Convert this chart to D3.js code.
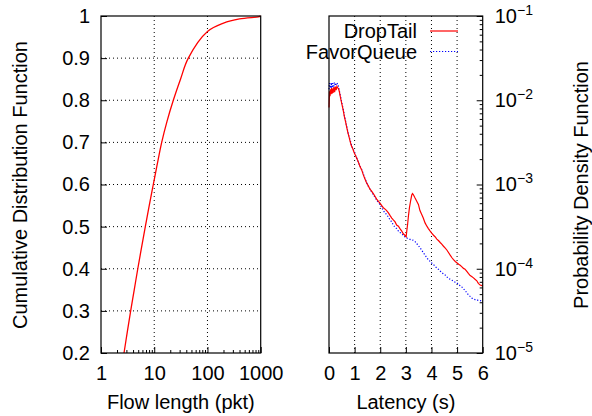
<!DOCTYPE html>
<html>
<head>
<meta charset="utf-8">
<script src="https://cdn.jsdelivr.net/npm/d3@7"></script>
<style>
  body{margin:0;background:#fff;}
  svg{display:block;}
</style>
</head>
<body>
<div id="container"></div>
<script>
let w = 592;
let h = 416;
let fontFamily = "'Liberation Sans', Arial, Helvetica, sans-serif";

// left panel: CDF of flow length
let flowLength = [2.705, 3.12, 3.61, 4.21, 4.91, 5.77, 6.80, 8.05, 9.60, 11.47, 13.81, 17.38, 22.82, 31.15, 43.66, 100, 200, 400, 900, 1000];
let flowCdf    = [0.2, 0.25, 0.3, 0.35, 0.4, 0.45, 0.5, 0.55, 0.6, 0.65, 0.7, 0.75, 0.8, 0.85, 0.9, 0.963, 0.983, 0.993, 0.998, 0.9995];
let cdfTicks = [0.2, 0.3, 0.4, 0.5, 0.6, 0.7, 0.8, 0.9, 1];
let lengthTicks = [1, 10, 100, 1000];

// right panel: PDF of latency, [seconds, density]
let dropTail = [
  [0,0.0082],[0.02,0.0128],[0.04,0.0112],[0.06,0.0135],[0.08,0.0118],[0.10,0.0140],[0.12,0.0120],[0.14,0.0138],
  [0.16,0.0122],[0.19,0.0143],[0.22,0.0125],[0.25,0.0145],[0.28,0.0132],[0.31,0.0146],[0.34,0.0140],[0.37,0.0138],
  [0.40,0.0128],[0.43,0.0115],[0.47,0.0100],[0.51,0.0088],[0.56,0.0075],[0.60,0.0064],[0.65,0.0055],[0.69,0.0048],
  [0.74,0.0041],[0.78,0.0037],[0.82,0.0033],[0.87,0.0029],[0.92,0.0027],[0.98,0.0024],[1.04,0.0022],[1.10,0.0020],
  [1.16,0.0018],[1.21,0.00163],[1.28,0.00148],[1.34,0.00130],[1.40,0.00117],[1.47,0.00104],[1.53,0.00097],[1.60,0.00088],
  [1.67,0.00083],[1.73,0.00078],[1.80,0.00072],[1.86,0.00067],[1.93,0.00063],[1.99,0.00060],[2.06,0.00056],[2.12,0.00053],
  [2.19,0.00051],[2.25,0.00049],[2.32,0.00046],[2.38,0.00043],[2.45,0.00040],[2.51,0.00038],[2.58,0.00036],[2.64,0.00033],
  [2.71,0.00032],[2.77,0.00030],[2.84,0.00028],[2.90,0.00026],[2.96,0.00025],[3.01,0.00024],[3.03,0.00027],[3.07,0.00034],
  [3.10,0.00042],[3.14,0.00053],[3.19,0.00065],[3.23,0.00075],[3.26,0.00078],[3.29,0.00076],[3.31,0.00074],[3.36,0.00069],
  [3.43,0.00063],[3.49,0.00058],[3.55,0.00049],[3.62,0.00044],[3.68,0.00040],[3.75,0.00035],[3.82,0.00032],[3.88,0.00030],
  [3.95,0.00028],[4.01,0.000265],[4.08,0.00025],[4.14,0.00024],[4.21,0.000225],[4.28,0.000215],[4.34,0.000205],[4.41,0.000195],
  [4.47,0.000185],[4.53,0.000177],[4.60,0.000167],[4.67,0.000155],[4.73,0.000145],[4.80,0.000135],[4.86,0.000128],[4.93,0.000122],
  [4.99,0.000118],[5.06,0.000113],[5.12,0.000110],[5.18,0.000106],[5.25,0.000101],[5.31,0.000099],[5.38,0.000093],[5.44,0.000088],
  [5.51,0.000083],[5.57,0.000081],[5.64,0.000078],[5.70,0.000075],[5.77,0.000072],[5.83,0.000067],[5.90,0.000064],[5.96,0.000063],
  [6.0,0.000064]
];
let favorQueue = [
  [0,0.0135],[0.02,0.0160],[0.04,0.0140],[0.06,0.0158],[0.08,0.0138],[0.10,0.0162],[0.12,0.0140],[0.15,0.0160],
  [0.18,0.0142],[0.21,0.0163],[0.24,0.0148],[0.27,0.0160],[0.30,0.0156],[0.33,0.0158],[0.36,0.0150],[0.40,0.0132],
  [0.43,0.0118],[0.47,0.0104],[0.51,0.0090],[0.56,0.0077],[0.60,0.0066],[0.65,0.0056],[0.69,0.0049],[0.74,0.0042],
  [0.78,0.0037],[0.82,0.0034],[0.87,0.0030],[0.92,0.0027],[0.98,0.0025],[1.04,0.0022],[1.10,0.0020],[1.16,0.0018],
  [1.21,0.00165],[1.28,0.00150],[1.34,0.00134],[1.40,0.00118],[1.47,0.00105],[1.53,0.00096],[1.60,0.00088],[1.67,0.00081],
  [1.73,0.00076],[1.80,0.00070],[1.86,0.00065],[1.93,0.00061],[1.99,0.00058],[2.06,0.00053],[2.12,0.00049],[2.19,0.00046],
  [2.25,0.00044],[2.32,0.00041],[2.38,0.00038],[2.45,0.00036],[2.51,0.00033],[2.58,0.00031],[2.64,0.00030],[2.71,0.00028],
  [2.77,0.00027],[2.84,0.000262],[2.90,0.00025],[2.96,0.00024],[3.01,0.000232],[3.08,0.00023],[3.14,0.000225],[3.21,0.00022],
  [3.29,0.000218],[3.36,0.00021],[3.43,0.000198],[3.49,0.000188],[3.55,0.000178],[3.62,0.000166],[3.68,0.000155],[3.75,0.000145],
  [3.82,0.000135],[3.88,0.000128],[3.95,0.000122],[4.01,0.000117],[4.08,0.000112],[4.14,0.000107],[4.21,0.000102],[4.28,0.000098],
  [4.34,0.000094],[4.41,0.000090],[4.47,0.000087],[4.54,0.000084],[4.60,0.000080],[4.67,0.000077],[4.73,0.000075],[4.80,0.000073],
  [4.86,0.000071],[4.93,0.000069],[4.99,0.000068],[5.06,0.000065],[5.12,0.000063],[5.18,0.000061],[5.25,0.000058],[5.31,0.000055],
  [5.38,0.000052],[5.44,0.000049],[5.51,0.000047],[5.57,0.000045],[5.64,0.000044],[5.70,0.000043],[5.77,0.000043],[5.83,0.000042],
  [5.90,0.000042],[5.96,0.000041],[6.0,0.000041]
];
let latencyTicks = [0, 1, 2, 3, 4, 5, 6];
let pdfTicks = [1e-5, 1e-4, 1e-3, 1e-2, 1e-1];
let pdfExponents = ["\u22125", "\u22124", "\u22123", "\u22122", "\u22121"];

// panel boxes
let plotTop = 16;
let plotBottom = 353;
let leftX0 = 101, leftX1 = 260.7;
let rightX0 = 329, rightX1 = 482.7;

let viz = d3.select("#container")
  .append("svg")
    .attr("width", w)
    .attr("height", h)
    .style("font-family", fontFamily)
;

function styleAxis(g){
  g.attr("font-size", 20).attr("font-family", fontFamily);
  g.select(".domain").remove();
  g.selectAll(".tick line").attr("stroke", "#000");
  g.selectAll(".tick text").attr("fill", "#000");
}

// ---------- left panel ----------
let xScaleL = d3.scaleLog().domain([1, 1000]).range([leftX0, leftX1]);
let yScaleL = d3.scaleLinear().domain([0.2, 1]).range([plotBottom, plotTop]);

let gridL = viz.append("g").attr("class", "gridL");
gridL.selectAll(".vgrid").data([10, 100]).enter().append("line")
  .attr("x1", d => xScaleL(d)).attr("x2", d => xScaleL(d))
  .attr("y1", plotTop).attr("y2", plotBottom)
  .attr("stroke", "#000").attr("stroke-width", 1).attr("stroke-dasharray", "1,3");
gridL.selectAll(".hgrid").data(cdfTicks.slice(1, -1)).enter().append("line")
  .attr("x1", leftX0).attr("x2", leftX1)
  .attr("y1", d => yScaleL(d)).attr("y2", d => yScaleL(d))
  .attr("stroke", "#000").attr("stroke-width", 1).attr("stroke-dasharray", "1,3");

let xAxisL = d3.axisBottom(xScaleL).tickValues(lengthTicks).tickFormat(d3.format("d"))
  .tickSizeInner(-6).tickSizeOuter(0).tickPadding(13);
let xAxisGroupL = viz.append("g").attr("class", "xaxisL")
  .attr("transform", "translate(0," + plotBottom + ")").call(xAxisL);
styleAxis(xAxisGroupL);

let minorLength = [];
[1, 10, 100].forEach(function(dec){
  for (let k = 2; k <= 9; k++) minorLength.push(dec * k);
});
let xMinorL = d3.axisBottom(xScaleL).tickValues(minorLength).tickFormat("").tickSizeInner(-3).tickSizeOuter(0);
let xMinorGroupL = viz.append("g").attr("transform", "translate(0," + plotBottom + ")").call(xMinorL);
styleAxis(xMinorGroupL);

let yAxisL = d3.axisLeft(yScaleL).tickValues(cdfTicks).tickFormat(d => d === 1 ? "1" : d3.format(".1f")(d))
  .tickSizeInner(-6).tickSizeOuter(0).tickPadding(11);
let yAxisGroupL = viz.append("g").attr("class", "yaxisL")
  .attr("transform", "translate(" + leftX0 + ",0)").call(yAxisL);
styleAxis(yAxisGroupL);

let cdfLine = d3.line()
  .x((d, i) => xScaleL(flowLength[i]))
  .y(d => yScaleL(d))
  .curve(d3.curveCatmullRom.alpha(0.5));
viz.append("path")
  .datum(flowCdf)
  .attr("d", cdfLine)
  .attr("fill", "none")
  .attr("stroke", "#ff0000")
  .attr("stroke-width", 1.3);

viz.append("rect")
  .attr("x", leftX0).attr("y", plotTop)
  .attr("width", leftX1 - leftX0).attr("height", plotBottom - plotTop)
  .attr("fill", "none").attr("stroke", "#000").attr("stroke-width", 1.2);

viz.append("text")
  .text("Flow length (pkt)")
  .attr("x", (leftX0 + leftX1) / 2).attr("y", 409)
  .attr("text-anchor", "middle").attr("font-size", 20);

viz.append("text")
  .text("Cumulative Distribution Function")
  .attr("transform", "translate(26.5,185) rotate(-90)")
  .attr("text-anchor", "middle").attr("font-size", 20);

// ---------- right panel ----------
let xScaleR = d3.scaleLinear().domain([0, 6]).range([rightX0, rightX1]);
let yScaleR = d3.scaleLog().domain([1e-5, 1e-1]).range([plotBottom, plotTop]);

viz.append("g").selectAll("line").data([1, 2, 3, 4, 5]).enter().append("line")
  .attr("x1", d => xScaleR(d)).attr("x2", d => xScaleR(d))
  .attr("y1", plotTop).attr("y2", plotBottom)
  .attr("stroke", "#000").attr("stroke-width", 1).attr("stroke-dasharray", "1,3");

let xAxisR = d3.axisBottom(xScaleR).tickValues(latencyTicks).tickFormat(d3.format("d"))
  .tickSizeInner(-6).tickSizeOuter(0).tickPadding(13);
let xAxisGroupR = viz.append("g").attr("class", "xaxisR")
  .attr("transform", "translate(0," + plotBottom + ")").call(xAxisR);
styleAxis(xAxisGroupR);

let yAxisR = d3.axisRight(yScaleR).tickValues(pdfTicks).tickFormat("")
  .tickSizeInner(-6).tickSizeOuter(0).tickPadding(12);
let yAxisGroupR = viz.append("g").attr("class", "yaxisR")
  .attr("transform", "translate(" + rightX1 + ",0)").call(yAxisR);
styleAxis(yAxisGroupR);
yAxisGroupR.selectAll(".tick text").each(function(d, i){
  let t = d3.select(this);
  t.append("tspan").text("10");
  t.append("tspan").text(pdfExponents[i]).attr("font-size", 14).attr("dy", -8);
});

let minorPdf = [];
[1e-5, 1e-4, 1e-3, 1e-2].forEach(function(dec){
  for (let k = 2; k <= 9; k++) minorPdf.push(dec * k);
});
let yMinorR = d3.axisRight(yScaleR).tickValues(minorPdf).tickFormat("").tickSizeInner(-3).tickSizeOuter(0);
let yMinorGroupR = viz.append("g").attr("transform", "translate(" + rightX1 + ",0)").call(yMinorR);
styleAxis(yMinorGroupR);

let pdfLine = d3.line()
  .x(d => xScaleR(d[0]))
  .y(d => yScaleR(d[1]));

viz.append("path")
  .datum(favorQueue)
  .attr("d", pdfLine)
  .attr("fill", "none")
  .attr("stroke", "#0000ff")
  .attr("stroke-width", 1.2)
  .attr("stroke-dasharray", "1.2,1.8");

viz.append("path")
  .datum(dropTail)
  .attr("d", pdfLine)
  .attr("fill", "none")
  .attr("stroke", "#ff0000")
  .attr("stroke-width", 1.2);

viz.append("rect")
  .attr("x", rightX0).attr("y", plotTop)
  .attr("width", rightX1 - rightX0).attr("height", plotBottom - plotTop)
  .attr("fill", "none").attr("stroke", "#000").attr("stroke-width", 1.2);

viz.append("text")
  .text("Latency (s)")
  .attr("x", (rightX0 + rightX1) / 2).attr("y", 409)
  .attr("text-anchor", "middle").attr("font-size", 20);

viz.append("text")
  .text("Probability Density Function")
  .attr("transform", "translate(588,185) rotate(-90)")
  .attr("text-anchor", "middle").attr("font-size", 20);

// legend
let legendItems = [
  {name: "DropTail", color: "#ff0000", dash: null, y: 31},
  {name: "FavorQueue", color: "#0000ff", dash: "1.2,1.8", y: 51.5}
];
let legend = viz.append("g").attr("class", "legend");
legend.selectAll("text").data(legendItems).enter().append("text")
  .text(d => d.name)
  .attr("x", 417).attr("y", d => d.y + 7)
  .attr("text-anchor", "end").attr("font-size", 20);
legend.selectAll("line").data(legendItems).enter().append("line")
  .attr("x1", 430).attr("x2", 458)
  .attr("y1", d => d.y).attr("y2", d => d.y)
  .attr("stroke", d => d.color).attr("stroke-width", 1.2)
  .attr("stroke-dasharray", d => d.dash);
</script>
</body>
</html>
